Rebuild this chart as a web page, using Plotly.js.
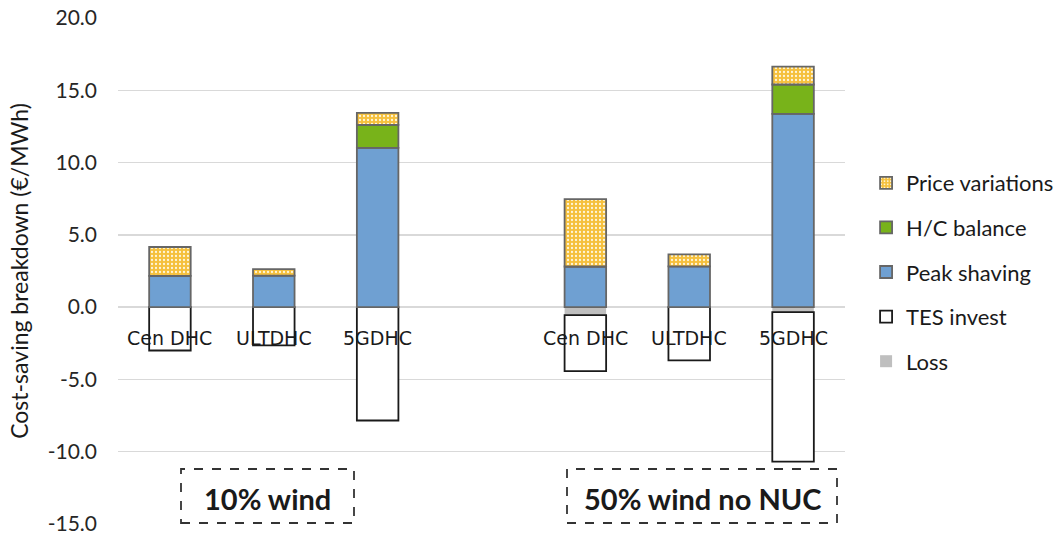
<!DOCTYPE html>
<html>
<head>
<meta charset="utf-8">
<script src="https://cdn.plot.ly/plotly-3.0.1.min.js"></script>
<style>html,body{margin:0;padding:0;background:#fff;}#chart{width:1057px;height:536px;}</style>
</head>
<body>
<div id="chart"></div>
<script>
// ---- data ----
var scenarios = ['10% wind', '50% wind no NUC'];
var systems = ['Cen DHC', 'ULTDHC', '5GDHC'];
// order: [10% Cen, 10% ULT, 10% 5G, 50% Cen, 50% ULT, 50% 5G]
var peakShaving = [2.16, 2.18, 11.02, 2.81, 2.82, 13.37];
var hcBalance   = [0, 0, 1.59, 0, 0, 2.03];
var priceVar    = [2.0, 0.45, 0.83, 4.66, 0.83, 1.23];
var loss        = [0, 0, 0, -0.55, 0, -0.35];
var tesInvest   = [-3.0, -2.65, -7.84, -3.88, -3.68, -10.33];
var yTicks = [-15, -10, -5, 0, 5, 10, 15, 20];

// category positions: each scenario group of 3 systems, one empty slot between groups
var xs = [], xlabels = [];
scenarios.forEach(function (s, g) {
  systems.forEach(function (sys, i) { xs.push(g * (systems.length + 1) + i); xlabels.push(sys); });
});

var W = 0.4;
function tr(name, y, color, line, rank, extra) {
  var t = {type: 'bar', name: name, x: xs, y: y, width: W, legendgroup: name, legendrank: rank,
    marker: {color: color, line: line}, hoverinfo: 'y+name'};
  if (extra) for (var k in extra) t.marker[k] = extra[k];
  return t;
}
var traces = [
  tr('Loss', loss, '#BFBFBF', {width: 0}, 5),
  tr('TES invest', tesInvest, '#FFFFFF', {color: '#1a1a1a', width: 1.8}, 4),
  tr('Peak shaving', peakShaving, '#6FA0D2', {color: '#666666', width: 1.8}, 3),
  tr('H/C balance', hcBalance, '#78B31A', {color: '#666666', width: 1.8}, 2),
  tr('Price variations', priceVar, '#F6C343', {color: '#666666', width: 1.8}, 1,
     {pattern: {shape: '.', bgcolor: '#F5C03C', fgcolor: '#FFF6DA', fgopacity: 1, size: 4, solidity: 0.25}})
];

var annotations = xs.map(function (x, i) {
  return {x: x, y: 0, xref: 'x', yref: 'y', text: xlabels[i], showarrow: false,
    yanchor: 'middle', yshift: -31, font: {family: 'DejaVu Sans', size: 19, color: '#1a1a1a'}};
});

var L = 118, R = 845, T = 18, B = 524;
function px(v) { return (v - L) / (R - L); }
function py(v) { return (B - v) / (B - T); }
var boxes = [[181, 354], [567, 837]];
var shapes = [];
boxes.forEach(function (b, g) {
  shapes.push({type: 'rect', xref: 'paper', yref: 'paper', x0: px(b[0]), x1: px(b[1]),
    y0: py(523), y1: py(469), line: {color: '#333333', width: 1.8, dash: 'dash'}, fillcolor: 'rgba(0,0,0,0)'});
  annotations.push({xref: 'paper', yref: 'paper', x: (px(b[0]) + px(b[1])) / 2, y: py(498),
    text: '<b>' + scenarios[g] + '</b>', showarrow: false, xanchor: 'center', yanchor: 'middle',
    font: {family: 'Lato', size: 29, color: '#1a1a1a'}});
});

var layout = {
  width: 1057, height: 536,
  margin: {l: L, r: 1057 - R, t: T, b: 536 - B, pad: 0, autoexpand: false},
  paper_bgcolor: '#ffffff', plot_bgcolor: '#ffffff',
  barmode: 'relative',
  showlegend: true,
  legend: {x: 1.029, xanchor: 'left', y: py(162), yanchor: 'top', traceorder: 'grouped',
    tracegroupgap: 13, font: {family: 'Lato', size: 22, color: '#1a1a1a'}, bgcolor: 'rgba(0,0,0,0)'},
  xaxis: {range: [-0.5, xs[xs.length - 1] + 0.5], showticklabels: false, showgrid: false,
    zeroline: false, showline: false, ticks: ''},
  yaxis: {range: [-15, 20], tickvals: yTicks, ticktext: yTicks.map(function (v) { return v.toFixed(1); }),
    showgrid: true, gridcolor: '#D9D9D9', gridwidth: 1.5, zeroline: false, showline: false, ticks: '',
    ticklabelstandoff: 20, tickfont: {family: 'Lato', size: 21, color: '#262626'},
    title: {text: 'Cost-saving breakdown (€/MWh)', standoff: 12, font: {family: 'Lato', size: 23, color: '#1a1a1a'}}},
  shapes: shapes,
  annotations: annotations
};

Plotly.newPlot('chart', traces, layout, {displayModeBar: false, staticPlot: true});
</script>
</body>
</html>
